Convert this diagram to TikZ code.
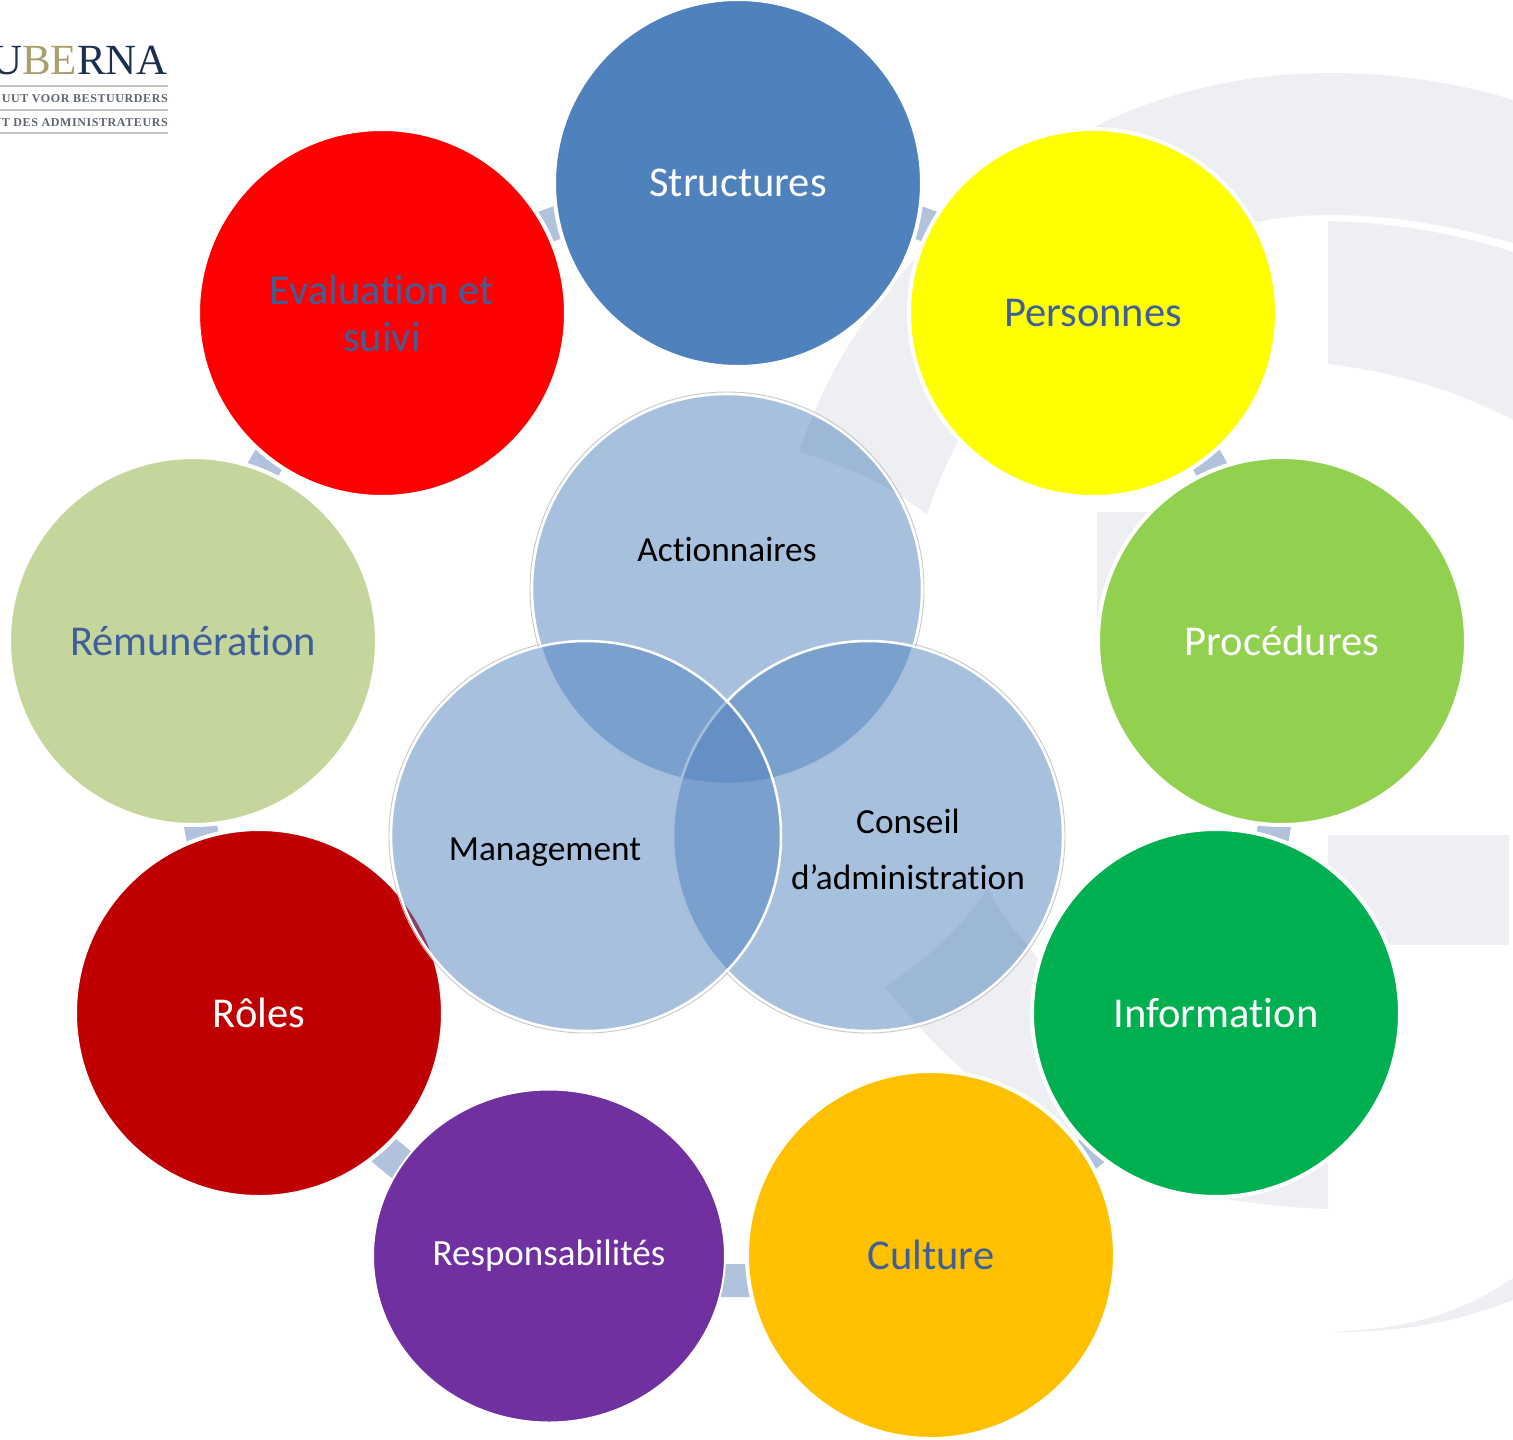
\documentclass[tikz,border=0pt]{standalone}
\usepackage{fontspec}
\setmainfont[Ligatures=NoCommon]{Carlito}
\newfontfamily\logofont{Liberation Serif}
\usetikzlibrary{shapes.geometric,backgrounds}
\definecolor{wm}{HTML}{EDEFF3}
\definecolor{conncol}{HTML}{B0C2DC}
\definecolor{darktext}{HTML}{3F5F9B}
\definecolor{vennblue}{HTML}{4F81BD}
\definecolor{navy}{HTML}{1C2F4F}
\definecolor{olive}{HTML}{A89F6A}
\definecolor{logogray}{HTML}{5E6473}
\definecolor{logoline}{HTML}{C4C5BE}
\definecolor{cyellow}{HTML}{FFFF00}
\definecolor{cred}{HTML}{FF0000}
\definecolor{cgreen}{HTML}{92D050}
\definecolor{cdgreen}{HTML}{00B050}
\definecolor{cgold}{HTML}{FFC000}
\definecolor{cpurple}{HTML}{7030A0}
\definecolor{cdred}{HTML}{C00000}
\definecolor{csage}{HTML}{C4D69B}
\tikzset{
  bub/.style={circle,minimum size=368pt,inner sep=0pt,line width=4pt,draw=white,align=center,font=\fontsize{42.5}{47}\selectfont},
  lt/.style={text=white},
  dk/.style={text=darktext},
  venn/.style={circle,minimum size=390pt,inner sep=0pt,line width=2.5pt,draw=white,fill=vennblue,fill opacity=.5,draw opacity=1},
  halo/.style={draw={rgb,255:red,200;green,200;blue,200},line width=.9pt},
  vennlab/.style={text=black,align=center,font=\fontsize{35.3}{56}\selectfont},
  conn/.style={conncol,line width=33pt},
  wmshape/.style={fill=wm,draw=none},
  rule/.style={logoline,line width=1.6pt},
  logosmall/.style={anchor=base east,inner sep=0pt,text=logogray,font=\logofont\bfseries\fontsize{12}{12}\selectfont\addfontfeature{LetterSpace=5}}
}
\begin{document}
\begin{tikzpicture}[x=1pt,y=-1pt]
\useasboundingbox (0,0) rectangle (1513,1440);
% watermark
\begin{scope}[on background layer]
\fill[wmshape] (799,452) .. controls (850,300) and (960,195) .. (1098,125) .. controls (1170,90) and (1250,73) .. (1330,73) .. controls (1395,73) and (1460,83) .. (1513,100) -- (1513,243) .. controls (1450,225) and (1390,215) .. (1330,215) .. controls (1170,215) and (1030,310) .. (958,442) .. controls (945,465) and (935,490) .. (927,515) .. controls (890,485) and (845,465) .. (799,452) -- cycle;
\fill[wmshape] (1328,221) .. controls (1395,223) and (1455,233) .. (1513,252) -- (1513,420) .. controls (1455,390) and (1395,372) .. (1328,364) -- cycle;
\fill[wmshape] (1097,512) rectangle (1200,620);
\fill[wmshape] (1328,835) rectangle (1509,945);
\fill[wmshape] (885,987) .. controls (910,1018) and (935,1045) .. (964,1071) .. controls (1020,1120) and (1130,1180) .. (1231,1200) .. controls (1265,1205) and (1295,1208) .. (1328,1209) -- (1328,1100) .. controls (1180,1090) and (1060,1010) .. (987,889) .. controls (960,930) and (925,960) .. (885,987) -- cycle;
\fill[wmshape] (1328,1332) .. controls (1395,1330) and (1455,1318) .. (1513,1278) -- (1513,1300) .. controls (1450,1325) and (1390,1333) .. (1328,1332) -- cycle;
\end{scope}
% logo
\node[anchor=base east,inner sep=0pt,text=navy,font=\logofont\fontsize{43}{43}\selectfont] (logo) at (168,74) {U\textcolor{olive}{BE}RNA};
\draw[rule] (0,86) -- (168,86);
\node[logosmall] (logoa) at (168,102) {UUT VOOR BESTUURDERS};
\draw[rule] (0,110) -- (168,110);
\node[logosmall] (logob) at (168,126) {UT DES ADMINISTRATEURS};
\draw[rule] (0,133) -- (168,133);
% outer nodes
\node[bub,fill=cred,dk] (eval) at (382,313) {Evaluation et\\suivi};
\node[bub,fill=vennblue,lt] (struct) at (738,183) {Structures};
\node[bub,fill=cyellow,dk] (pers) at (1093,313) {Personnes};
\node[bub,fill=cgreen,lt] (proc) at (1282,641) {Procédures};
\node[bub,fill=cdgreen,lt] (info) at (1216,1013) {Information};
\node[bub,fill=cgold,dk] (cult) at (931,1255) {Culture};
\node[ellipse,minimum width=352pt,minimum height=333pt,inner sep=0pt,fill=cpurple,draw=white,line width=2pt,text=white,font=\fontsize{37}{44}\selectfont] (resp) at (549,1256) {Responsabilités};
\node[bub,fill=cdred,lt] (roles) at (259,1013) {Rôles};
\node[bub,fill=csage,dk] (remu) at (193,641) {Rémunération};
% connectors behind the nodes
\begin{scope}[on background layer]
\draw[conn] (eval.center) to[bend left=13] (struct.center);
\draw[conn] (struct.center) to[bend left=13] (pers.center);
\draw[conn] (pers.center) to[bend left=13] (proc.center);
\draw[conn] (proc.center) to[bend left=13] (info.center);
\draw[conn] (info.center) to[bend left=13] (cult.center);
\draw[conn] (cult.center) to[bend left=13] (resp.center);
\draw[conn] (resp.center) to[bend left=13] (roles.center);
\draw[conn] (roles.center) to[bend left=13] (remu.center);
\draw[conn] (remu.center) to[bend left=13] (eval.center);
\end{scope}
% venn
\node[venn] (act) at (727,589) {};
\node[venn] (con) at (868,836) {};
\node[venn] (man) at (586,836) {};
\begin{scope}[even odd rule]
\clip (0,0) rectangle (1513,1440) (man.center) circle (195);
\clip (0,0) rectangle (1513,1440) (con.center) circle (195);
\draw[halo] (act.center) circle (197);
\end{scope}
\begin{scope}[even odd rule]
\clip (0,0) rectangle (1513,1440) (act.center) circle (195);
\clip (0,0) rectangle (1513,1440) (man.center) circle (195);
\draw[halo] (con.center) circle (197);
\end{scope}
\begin{scope}[even odd rule]
\clip (0,0) rectangle (1513,1440) (act.center) circle (195);
\clip (0,0) rectangle (1513,1440) (con.center) circle (195);
\draw[halo] (man.center) circle (197);
\end{scope}
\node[vennlab] (tact) at (727,549) {Actionnaires};
\node[vennlab] (tman) at (545,852) {Management};
\node[vennlab] (tcon) at (908,849) {Conseil\\d’administration};
\end{tikzpicture}
\end{document}
